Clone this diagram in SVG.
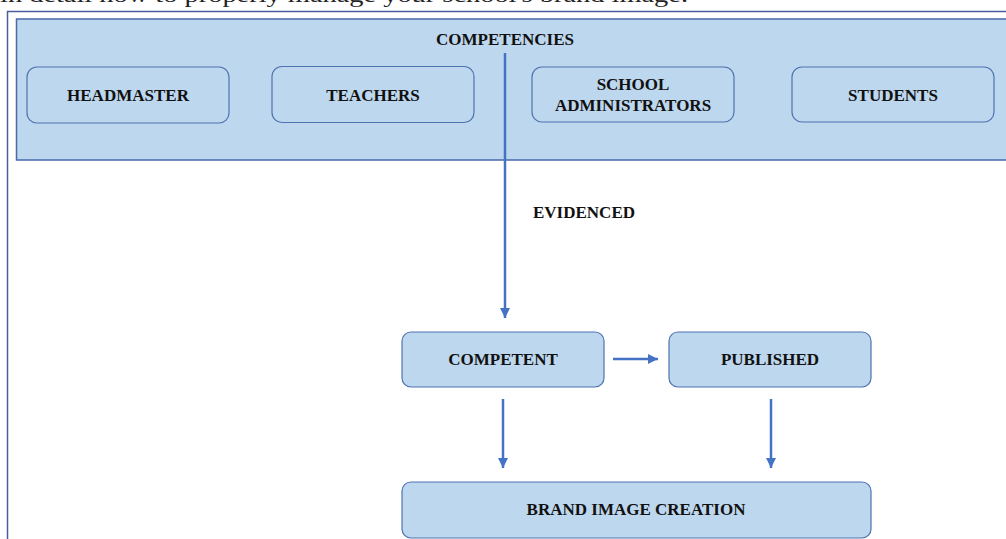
<svg xmlns="http://www.w3.org/2000/svg" width="1006" height="539" viewBox="0 0 1006 539">
<style>
.lbl{font-family:"Liberation Serif","Times New Roman",serif;font-weight:bold;font-size:17px;fill:#111;text-anchor:middle}
.box{fill:#bdd7ee;stroke:#4f72b0;stroke-width:1.2}
.conn{stroke:#4472c4;stroke-width:2.5;fill:none}
.frame{stroke:#4a5f9c;stroke-width:1.5;fill:none}
</style>
<defs>
<marker id="ah" viewBox="0 0 10 10" refX="10" refY="5" markerWidth="4" markerHeight="4" orient="auto" markerUnits="strokeWidth">
<path d="M0,0 L10,5 L0,10 z" fill="#4472c4"/>
</marker>
</defs>
<rect width="1006" height="539" fill="#fff"/>
<text x="0" y="1.5" font-family="Liberation Serif,serif" font-size="22" fill="#222" textLength="688" lengthAdjust="spacingAndGlyphs">in detail how to properly manage your school's brand image.</text>
<g id="frame">
<line class="frame" x1="7" y1="11.5" x2="1006" y2="11.5"/>
<line class="frame" x1="7.5" y1="11" x2="7.5" y2="539"/>
</g>
<g id="competencies">
<rect x="16.5" y="19" width="1000" height="141" fill="#bdd7ee" stroke="#4a6aa8" stroke-width="1.5"/>
<text class="lbl" x="505" y="45">COMPETENCIES</text>
</g>
<g id="headmaster">
<rect class="box" x="27" y="67" width="202" height="56" rx="10"/>
<text class="lbl" x="128" y="101">HEADMASTER</text>
</g>
<g id="teachers">
<rect class="box" x="272" y="66.5" width="202" height="56" rx="10"/>
<text class="lbl" x="373" y="100.5">TEACHERS</text>
</g>
<g id="school-administrators">
<rect class="box" x="532" y="67" width="202" height="55" rx="10"/>
<text class="lbl" x="633" y="90">SCHOOL</text>
<text class="lbl" x="633" y="111">ADMINISTRATORS</text>
</g>
<g id="students">
<rect class="box" x="792" y="67" width="202" height="55" rx="10"/>
<text class="lbl" x="893" y="100.5">STUDENTS</text>
</g>
<g id="evidenced-label">
<text class="lbl" x="584" y="218">EVIDENCED</text>
</g>
<g id="competent">
<rect class="box" x="402" y="332" width="202" height="55" rx="9"/>
<text class="lbl" x="503" y="365">COMPETENT</text>
</g>
<g id="published">
<rect class="box" x="669" y="332" width="202" height="55" rx="9"/>
<text class="lbl" x="770" y="365">PUBLISHED</text>
</g>
<g id="brand-image-creation">
<rect class="box" x="402" y="482" width="469" height="56" rx="9"/>
<text class="lbl" x="636" y="515">BRAND IMAGE CREATION</text>
</g>
<g id="connectors">
<line class="conn" x1="505" y1="53" x2="505" y2="318" marker-end="url(#ah)"/>
<line class="conn" x1="613" y1="359" x2="658" y2="359" marker-end="url(#ah)"/>
<line class="conn" x1="503" y1="399" x2="503" y2="468" marker-end="url(#ah)"/>
<line class="conn" x1="771" y1="399" x2="771" y2="468" marker-end="url(#ah)"/>
</g>
</svg>
